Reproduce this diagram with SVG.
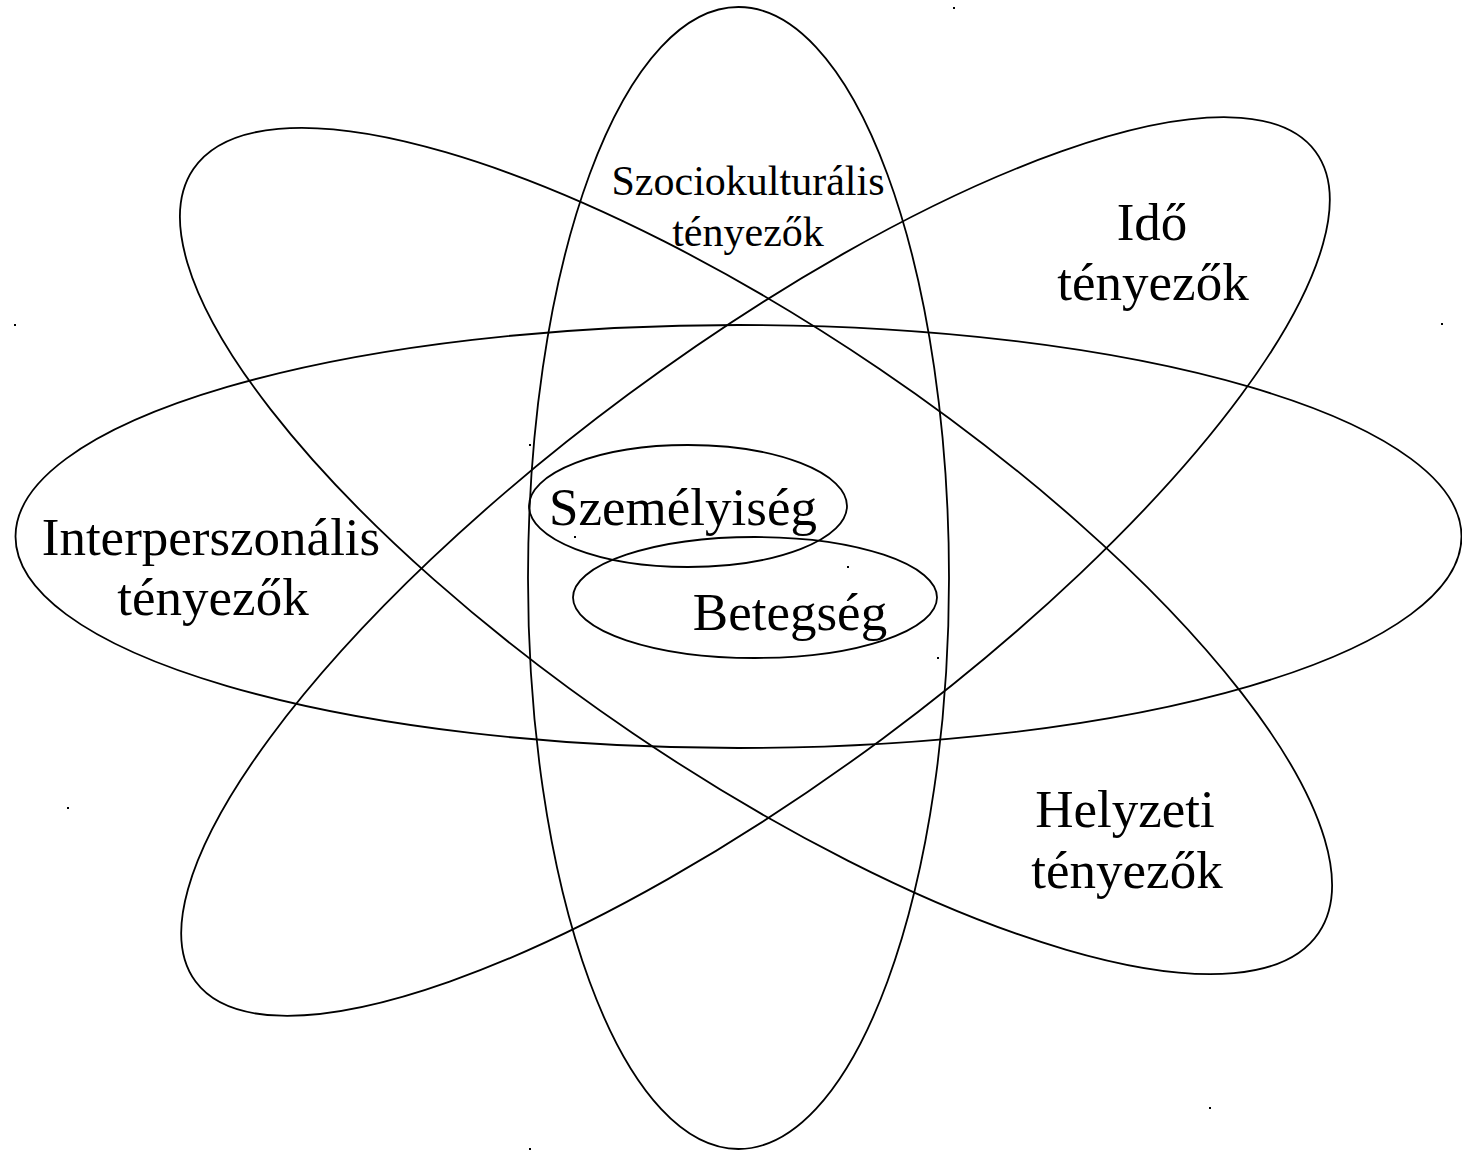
<svg xmlns="http://www.w3.org/2000/svg" width="1462" height="1151" viewBox="0 0 1462 1151">
<style>
.e{fill:none;stroke:#000;stroke-width:1.8}
.t{font-family:"Liberation Serif","Times New Roman",serif;fill:#000;text-anchor:middle}
.big{font-size:53px}
.small{font-size:42px}
.d{fill:#000}
</style>
<rect width="1462" height="1151" fill="#fff"/>
<g id="connectors"></g>
<g id="node-szociokulturalis">
<ellipse class="e" cx="738.5" cy="578" rx="210.5" ry="571"/>
<text class="t small" x="748" y="195">Szociokulturális</text>
<text class="t small" x="748" y="246">tényezők</text>
</g>
<g id="node-interperszonalis">
<ellipse class="e" cx="738.5" cy="536.5" rx="723" ry="211.5"/>
<text class="t big" x="211" y="555">Interperszonális</text>
<text class="t big" x="213" y="615">tényezők</text>
</g>
<g id="node-helyzeti">
<ellipse class="e" cx="756" cy="551" rx="680" ry="220" transform="rotate(34.17 756 551)"/>
<text class="t big" x="1125" y="827">Helyzeti</text>
<text class="t big" x="1127" y="888">tényezők</text>
</g>
<g id="node-ido">
<ellipse class="e" cx="755.5" cy="566.5" rx="697" ry="214" transform="rotate(-36.55 755.5 566.5)"/>
<text class="t big" x="1152" y="240">Idő</text>
<text class="t big" x="1153" y="300">tényezők</text>
</g>
<g id="node-szemelyiseg">
<ellipse class="e" cx="688" cy="506" rx="159" ry="61"/>
<text class="t big" x="683" y="525">Személyiség</text>
</g>
<g id="node-betegseg">
<ellipse class="e" cx="755" cy="597.5" rx="182" ry="60.5"/>
<text class="t big" x="790" y="630">Betegség</text>
</g>
<g id="marks">
<rect class="d" x="953" y="7" width="2" height="2"/>
<rect class="d" x="14" y="324" width="2" height="2"/>
<rect class="d" x="1441" y="323" width="2" height="2"/>
<rect class="d" x="529" y="444" width="2" height="2"/>
<rect class="d" x="574" y="536" width="2" height="2"/>
<rect class="d" x="847" y="566" width="2" height="2"/>
<rect class="d" x="937" y="657" width="2" height="2"/>
<rect class="d" x="67" y="807" width="2" height="2"/>
<rect class="d" x="1209" y="1107" width="2" height="2"/>
<rect class="d" x="529" y="1148" width="2" height="2"/>
</g>
</svg>
